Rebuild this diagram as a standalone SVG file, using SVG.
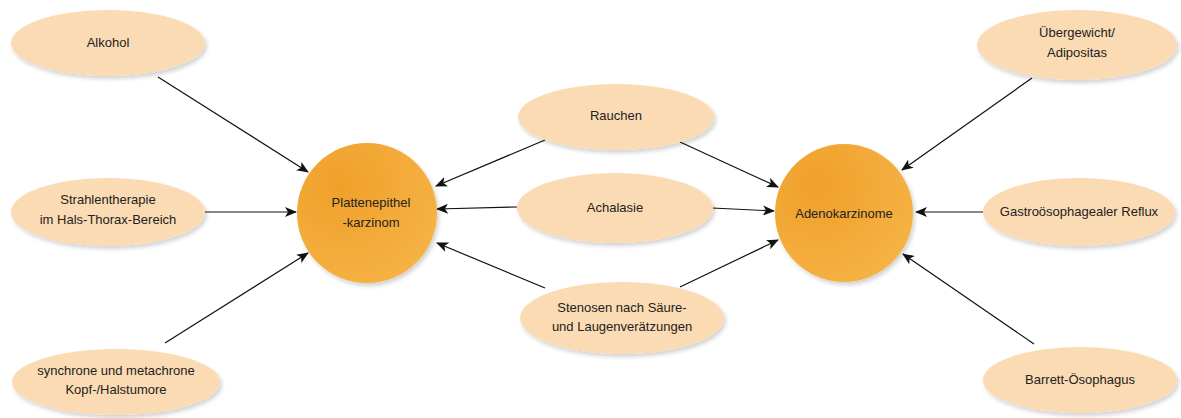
<svg xmlns="http://www.w3.org/2000/svg" width="1181" height="418" viewBox="0 0 1181 418">
<defs>
<radialGradient id="og" cx="0.3" cy="0.3" r="0.9">
<stop offset="0" stop-color="#f0a02a"/>
<stop offset="1" stop-color="#f6b548"/>
</radialGradient>
<filter id="sh" x="-20%" y="-20%" width="150%" height="150%">
<feGaussianBlur in="SourceAlpha" stdDeviation="2"/>
<feOffset dx="2" dy="3"/>
<feComponentTransfer><feFuncA type="linear" slope="0.18"/></feComponentTransfer>
<feMerge><feMergeNode/><feMergeNode in="SourceGraphic"/></feMerge>
</filter>
<marker id="ar" viewBox="0 0 12 10" refX="11" refY="5" markerWidth="12" markerHeight="10" markerUnits="userSpaceOnUse" orient="auto">
<path d="M0,0 L12,5 L0,10 L3,5 Z" fill="#111"/>
</marker>
</defs>
<style>
.e{fill:#fbdbb3;filter:url(#sh)}
.c{fill:url(#og);filter:url(#sh)}
text{font-family:"Liberation Sans",Arial,sans-serif;font-size:13px;fill:#222;text-anchor:middle}
.l{stroke:#111;stroke-width:1.2;fill:none;marker-end:url(#ar)}
</style>
<rect width="1181" height="418" fill="#fff"/>
<g id="connectors">
<line class="l" x1="158" y1="77" x2="308" y2="172"/>
<line class="l" x1="205" y1="212" x2="296" y2="212"/>
<line class="l" x1="165" y1="343" x2="308" y2="253"/>
<line class="l" x1="545" y1="140" x2="436" y2="186"/>
<line class="l" x1="517" y1="207" x2="437" y2="209"/>
<line class="l" x1="545" y1="288" x2="437" y2="243"/>
<line class="l" x1="680" y1="142" x2="778" y2="187"/>
<line class="l" x1="712" y1="208" x2="774" y2="211"/>
<line class="l" x1="680" y1="287" x2="778" y2="240"/>
<line class="l" x1="1032" y1="78" x2="902" y2="170"/>
<line class="l" x1="983" y1="212" x2="916" y2="212"/>
<line class="l" x1="1034" y1="344" x2="903" y2="254"/>
</g>
<g id="alkohol"><ellipse class="e" cx="108" cy="43" rx="97" ry="33"/><text x="108" y="47">Alkohol</text></g>
<g id="strahlentherapie"><ellipse class="e" cx="108" cy="212" rx="97" ry="34"/><text x="108" y="204">Strahlentherapie</text><text x="108" y="224">im Hals-Thorax-Bereich</text></g>
<g id="synchrone"><ellipse class="e" cx="116" cy="382" rx="104" ry="33"/><text x="116" y="375">synchrone und metachrone</text><text x="116" y="394">Kopf-/Halstumore</text></g>
<g id="plattenepithel"><circle class="c" cx="367" cy="213" r="70"/><text x="371" y="207">Plattenepithel</text><text x="371" y="227">-karzinom</text></g>
<g id="rauchen"><ellipse class="e" cx="616" cy="117" rx="98" ry="33"/><text x="616" y="120">Rauchen</text></g>
<g id="achalasie"><ellipse class="e" cx="615" cy="208" rx="98" ry="35"/><text x="615" y="212">Achalasie</text></g>
<g id="stenosen"><ellipse class="e" cx="622" cy="318" rx="102" ry="36"/><text x="622" y="312">Stenosen nach Säure-</text><text x="622" y="331">und Laugenverätzungen</text></g>
<g id="adenokarzinome"><circle class="c" cx="844" cy="213" r="69"/><text x="844" y="218">Adenokarzinome</text></g>
<g id="uebergewicht"><ellipse class="e" cx="1077" cy="45" rx="100" ry="35"/><text x="1077" y="37">Übergewicht/</text><text x="1077" y="57">Adipositas</text></g>
<g id="reflux"><ellipse class="e" cx="1079" cy="212" rx="96" ry="34"/><text x="1079" y="216">Gastroösophagealer Reflux</text></g>
<g id="barrett"><ellipse class="e" cx="1080" cy="380" rx="97" ry="33"/><text x="1080" y="384">Barrett-Ösophagus</text></g>
</svg>
